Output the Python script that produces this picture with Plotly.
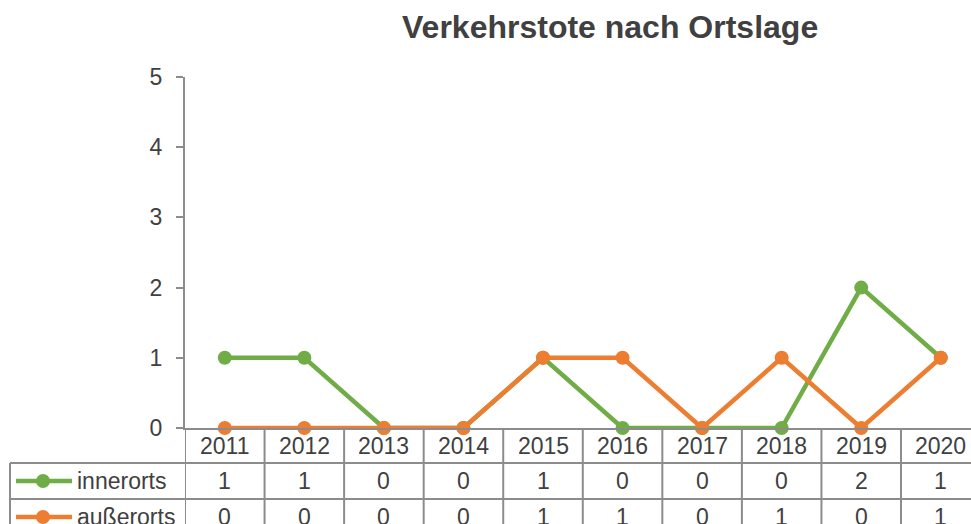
import plotly.graph_objects as go

years = ["2011", "2012", "2013", "2014", "2015", "2016", "2017", "2018", "2019", "2020"]
innerorts = [1, 1, 0, 0, 1, 0, 0, 0, 2, 1]
ausserorts = [0, 0, 0, 0, 1, 1, 0, 1, 0, 1]
series_names = ["innerorts", "außerorts"]
title_text = "Verkehrstote nach Ortslage"

W, H = 971, 524
OX, OY = 0, 0  # body margin removed via post_script
GREEN = "#70AD47"
ORANGE = "#ED7D31"
GRID = "#8C8C8C"
TXT = "#404040"
FONT = "Liberation Sans, Arial, sans-serif"


def px(x):
    return (x - OX) / W


def py(y):
    return 1 - (y - OY) / H


fig = go.Figure()
for name, vals, col in [(series_names[0], innerorts, GREEN), (series_names[1], ausserorts, ORANGE)]:
    fig.add_trace(go.Scatter(
        x=years, y=vals, name=name, mode="lines+markers",
        line=dict(color=col, width=4.5),
        marker=dict(color=col, size=14),
        cliponaxis=False, showlegend=False, hoverinfo="skip",
    ))

shapes = []
annotations = []

n = len(years)
for k in range(n + 1):
    shapes.append(dict(type="line", xref="x", yref="paper",
                       x0=k - 0.5, x1=k - 0.5, y0=py(428), y1=py(H + 40),
                       line=dict(color=GRID, width=2)))
for yy in (463, 499):
    shapes.append(dict(type="line", xref="paper", yref="paper",
                       x0=px(10), x1=1, y0=py(yy), y1=py(yy),
                       line=dict(color=GRID, width=2)))
shapes.append(dict(type="line", xref="paper", yref="paper",
                   x0=px(10), x1=px(10), y0=py(463), y1=py(H + 40),
                   line=dict(color=GRID, width=2)))

for i, yr in enumerate(years):
    annotations.append(dict(x=i, y=py(446), xref="x", yref="paper",
                            text=yr, showarrow=False, xanchor="center", yanchor="middle",
                            font=dict(family=FONT, size=23, color=TXT)))

rows = [(series_names[0], innerorts, GREEN, 481), (series_names[1], ausserorts, ORANGE, 517)]
for name, vals, col, yc in rows:
    for i, v in enumerate(vals):
        annotations.append(dict(x=i, y=py(yc), xref="x", yref="paper",
                                text=str(v), showarrow=False, xanchor="center", yanchor="middle",
                                font=dict(family=FONT, size=23, color=TXT)))
    annotations.append(dict(x=px(75), y=py(yc), xref="paper", yref="paper",
                            text=name, showarrow=False, xanchor="left", yanchor="middle",
                            font=dict(family=FONT, size=23, color=TXT)))
    shapes.append(dict(type="line", xref="paper", yref="paper",
                       x0=px(16), x1=px(72), y0=py(yc), y1=py(yc),
                       line=dict(color=col, width=4.5)))
    shapes.append(dict(type="circle", xref="paper", yref="paper",
                       x0=px(43 - 7), x1=px(43 + 7), y0=py(yc + 7), y1=py(yc - 7),
                       fillcolor=col, line=dict(color=col, width=0)))

annotations.append(dict(x=px(610), y=py(27), xref="paper", yref="paper",
                        text="<b>" + title_text + "</b>", showarrow=False,
                        xanchor="center", yanchor="middle",
                        font=dict(family=FONT, size=32, color=TXT)))

step = (941 - 225) / 9.0
x_right = -0.5 + (W + OX - 185) / step

fig.update_layout(
    width=W, height=H,
    margin=dict(l=0, r=0, t=0, b=0, pad=0),
    paper_bgcolor="white", plot_bgcolor="white",
    shapes=shapes, annotations=annotations,
    hovermode=False,
    xaxis=dict(domain=[px(185), 1], range=[-0.5, x_right], type="category",
               automargin=False,
               showline=True, linecolor=GRID, linewidth=2,
               showticklabels=False, ticks="", showgrid=False, zeroline=False),
    yaxis=dict(domain=[py(428), py(77)], range=[0, 5], dtick=1,
               automargin=False,
               showline=True, linecolor=GRID, linewidth=2,
               ticks="outside", ticklen=7, tickcolor=GRID, tickwidth=2,
               ticklabelstandoff=9,
               tickfont=dict(family=FONT, size=23, color=TXT),
               showgrid=False, zeroline=False),
)

fig.write_html(
    "out.html",
    config={"displayModeBar": False, "staticPlot": True},
    post_script="document.body.style.margin='0px';document.body.style.overflow='hidden';"
                "document.documentElement.style.overflow='hidden';",
)
